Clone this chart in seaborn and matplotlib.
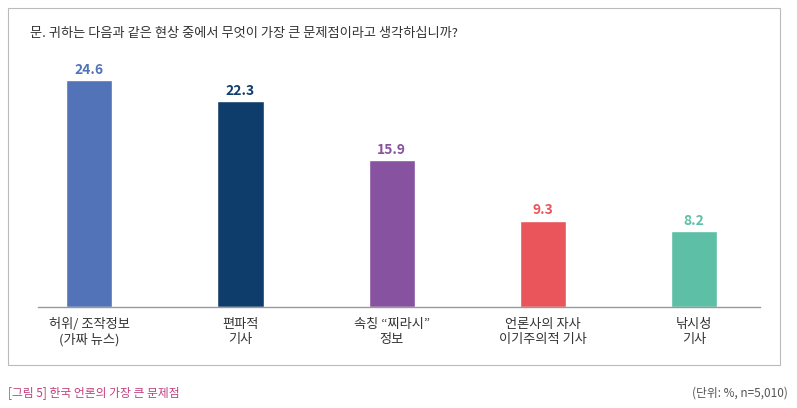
import matplotlib
matplotlib.use("Agg")
import matplotlib.pyplot as plt
import seaborn as sns
import pandas as pd
from matplotlib.patches import Rectangle

categories = ["허위/ 조작정보\n(가짜 뉴스)", "편파적\n기사", "속칭 “찌라시”\n정보", "언론사의 자사\n이기주의적 기사", "낚시성\n기사"]
values = [24.6, 22.3, 15.9, 9.3, 8.2]
colors = ["#5273b8", "#0f3d6b", "#87529f", "#e9555b", "#5cbfa6"]

sns.set_theme(style="white")
plt.rcParams['font.family'] = ['Noto Sans CJK KR', 'DejaVu Sans']

fig = plt.figure(figsize=(7.97, 4.08), dpi=100)
ax = fig.add_axes([0.048, 0.248, 0.906, 0.605])
df = pd.DataFrame({"cat": categories, "val": values})
sns.barplot(data=df, x="cat", y="val", hue="cat", palette=colors, legend=False, width=0.305, ax=ax, saturation=1)
ax.set_ylim(0, 26.8)
ax.set_xlim(-0.338, 4.44)
for i, (v, c) in enumerate(zip(values, colors)):
    ax.text(i, v + 0.4, f"{v}", ha="center", va="bottom", color=c, fontsize=10, fontweight="bold")
ax.set_xlabel(""); ax.set_ylabel("")
ax.set_yticks([])
ax.tick_params(axis="x", length=0, labelsize=9.5, colors="#333333", pad=8)
for s in ["top", "right", "left"]:
    ax.spines[s].set_visible(False)
ax.spines["bottom"].set_color("#999999")
ax.spines["bottom"].set_linewidth(1)

fig.patches.append(Rectangle((8/797, 43/408), 772/797, 357/408, transform=fig.transFigure,
                             fill=False, edgecolor="#bbbbbb", linewidth=0.8))
fig.text(30/797, 1 - 33/408, "문. 귀하는 다음과 같은 현상 중에서 무엇이 가장 큰 문제점이라고 생각하십니까?",
         fontsize=9.5, color="#333333", va="center", fontweight="medium")
fig.text(8/797, 1 - 393/408, "[그림 5] 한국 언론의 가장 큰 문제점", fontsize=8.5, color="#c2417f", va="center")
fig.text(788/797, 1 - 393/408, "(단위: %, n=5,010)", fontsize=8.5, color="#555555", va="center", ha="right")
fig.savefig("out.png", dpi=100)
